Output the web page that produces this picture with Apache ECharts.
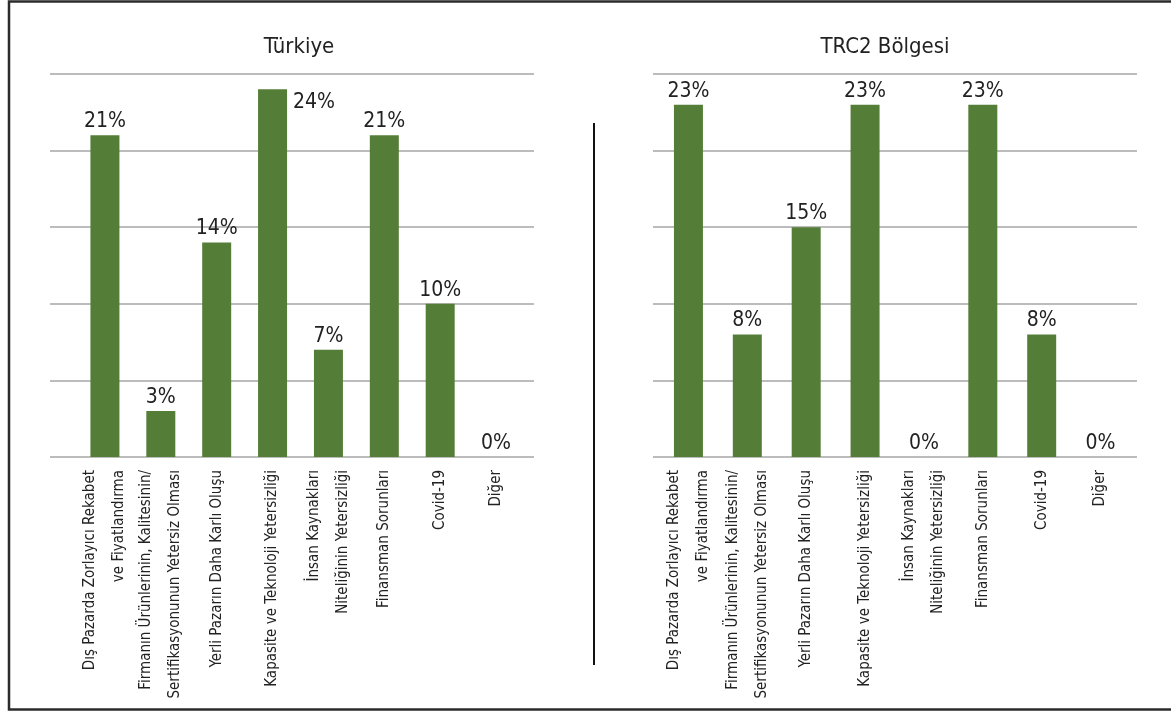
<!DOCTYPE html>
<html>
<head>
<meta charset="utf-8">
<script src="https://cdn.jsdelivr.net/npm/echarts@6/dist/echarts.min.js"></script>
<style>
html,body{margin:0;padding:0;background:#fff;}
#c{width:1171px;height:714px;}
</style>
</head>
<body>
<div id="c"></div>
<script>
const categories = [
  "Dış Pazarda Zorlayıcı Rekabet\nve Fiyatlandırma",
  "Firmanın Ürünlerinin, Kalitesinin/\nSertifikasyonunun Yetersiz Olması",
  "Yerli Pazarın Daha Karlı Oluşu",
  "Kapasite ve Teknoloji Yetersizliği",
  "İnsan Kaynakları\nNiteliğinin Yetersizliği",
  "Finansman Sorunları",
  "Covid-19",
  "Diğer"
];
const turkiyeValues = [21, 3, 14, 24, 7, 21, 10, 0];
const trc2Values = [23, 8, 15, 23, 0, 23, 8, 0];
const titles = ["Türkiye", "TRC2 Bölgesi"];
const sideLabelIndexTurkiye = [3];

const FONT = "'Liberation Sans Narrow', 'DejaVu Sans Condensed', 'Roboto', sans-serif";
const GREEN = '#547e37';
const TXT = '#222222';
const GRIDC = '#a6a6a6';

const chart = echarts.init(document.getElementById('c'));

function bgX(i){ return {gridIndex:i, type:'value', min:0, max:1, show:false}; }
function bgY(i){ return {gridIndex:i, type:'value', min:0, max:25, interval:5,
  axisLabel:{show:false}, axisLine:{show:false}, axisTick:{show:false},
  splitLine:{show:true, lineStyle:{color:GRIDC, width:1.5}}}; }
function dataX(i){ return {gridIndex:i, type:'category', data:categories,
  axisLine:{show:false}, axisTick:{show:false},
  axisLabel:{interval:0, rotate:90, margin:13, fontFamily:FONT, fontSize:15, lineHeight:29, color:TXT}}; }
function dataY(i){ return {gridIndex:i, type:'value', min:0, max:25, interval:5, show:false, splitLine:{show:false}}; }

function mkData(vals, sideIdx){
  return vals.map((v,i)=> sideIdx.includes(i)
    ? {value:v, label:{position:['100%',0], align:'left', verticalAlign:'top', offset:[6,3]}}
    : v);
}

const labelCfg = {show:true, position:'top', distance:3, formatter:'{c}%', fontFamily:FONT, fontSize:21, color:TXT};

chart.setOption({
  animation:false,
  backgroundColor:'#ffffff',
  title:[
    {text:titles[0], left:294, top:31, textAlign:'center', textStyle:{fontFamily:FONT, fontSize:22, fontWeight:'normal', color:TXT}},
    {text:titles[1], left:880, top:31, textAlign:'center', textStyle:{fontFamily:FONT, fontSize:22, fontWeight:'normal', color:TXT}}
  ],
  grid:[
    {left:50, width:484, top:74, height:383},
    {left:77, width:447, top:74, height:383},
    {left:653, width:484, top:74, height:383},
    {left:659, width:471, top:74, height:383}
  ],
  xAxis:[bgX(0), dataX(1), bgX(2), dataX(3)],
  yAxis:[bgY(0), dataY(1), bgY(2), dataY(3)],
  series:[
    {type:'bar', xAxisIndex:1, yAxisIndex:1, data:mkData(turkiyeValues, sideLabelIndexTurkiye), barWidth:29, itemStyle:{color:GREEN}, label:labelCfg},
    {type:'bar', xAxisIndex:3, yAxisIndex:3, data:mkData(trc2Values, []), barWidth:29, itemStyle:{color:GREEN}, label:labelCfg}
  ],
  graphic:[
    {type:'rect', shape:{x:9, y:1.5, width:1175, height:708}, style:{fill:null, stroke:'#2b2b2b', lineWidth:2.5}, silent:true},
    {type:'line', shape:{x1:594, y1:123, x2:594, y2:665}, style:{stroke:'#111', lineWidth:2}, silent:true}
  ]
});
</script>
</body>
</html>
